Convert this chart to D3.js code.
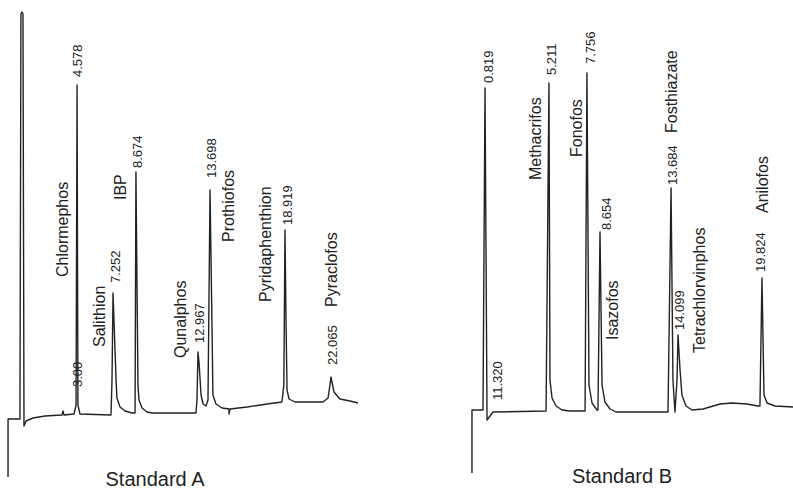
<!DOCTYPE html>
<html>
<head>
<meta charset="utf-8">
<script src="https://cdn.jsdelivr.net/npm/d3@7"></script>
<style>
  body { margin: 0; background: #fff; }
  text { font-family: "Liberation Sans", Arial, sans-serif; fill: #222; }
</style>
</head>
<body>
<svg id="chart" width="793" height="490"></svg>
<script>
// chromatogram traces: [retention time (min), detector signal]
const traceA = [
  [-0.19, -14.25], [-0.19, 0.25], [0.63, 0.25], [0.70, 101.5], [0.77, 102], [0.84, 101.5],
  [0.91, -1.5], [1.05, -0.25], [1.53, 0.5], [2.36, 1.0], [3.53, 1.25], [3.60, 2.25], [3.67, 1.25],
  [4.36, 1.5], [4.50, 3.75], [4.57, 83.75], [4.63, 3.75], [4.77, 1.5], [6.91, 1.25],
  [6.98, 10], [7.05, 31.75], [7.26, 10], [7.32, 5.5], [7.53, 3.25], [7.88, 2.25], [8.36, 1.75],
  [8.57, 1.75], [8.63, 62], [8.77, 8.75], [8.84, 5], [9.05, 3], [9.39, 2], [9.74, 1.75],
  [12.77, 1.75], [12.84, 5], [12.91, 17], [12.98, 14.5], [13.12, 6.25], [13.26, 4], [13.46, 3.5],
  [13.60, 5], [13.74, 57.5], [13.88, 22.5], [13.94, 6.25], [14.15, 4], [14.57, 3],
  [15.05, 2.75], [15.05, 1.5], [15.12, 2.75], [16.29, 3.25], [17.67, 4], [18.70, 4.5],
  [18.83, 8.75], [18.91, 47.5], [18.98, 25], [19.05, 7.5], [19.19, 5.25], [19.60, 4.5],
  [21.53, 4.5], [21.88, 5.5], [22.01, 8.75], [22.08, 10.75], [22.15, 9.5], [22.29, 7],
  [22.70, 5.25], [23.39, 4.75], [23.94, 4.25]
];
const traceB = [
  [-0.14, -13.25], [-0.14, 2.5], [0.62, 2.5], [0.76, 83], [0.90, 0], [1.31, 2],
  [4.97, 2.25], [5.17, 84.25], [5.24, 10], [5.38, 5.5], [5.66, 3.5], [6.07, 2.5], [6.62, 2.25],
  [7.66, 2.25], [7.79, 86.75], [7.93, 8.75], [8.14, 4.25], [8.48, 2.5], [8.55, 2.5],
  [8.69, 47], [8.83, 8.75], [9.03, 4.5], [9.38, 2.75], [9.79, 2], [13.38, 2],
  [13.59, 58], [13.72, 10], [13.86, 2], [14.0, 10], [14.07, 21.25], [14.21, 12.5],
  [14.34, 6.25], [14.62, 3.5], [15.03, 2.5], [15.79, 2.75], [16.97, 4], [17.79, 4.25],
  [18.83, 4], [19.59, 3.5], [19.72, 3.5], [19.86, 35.5], [20.0, 6.25], [20.21, 4.25],
  [20.76, 3.5], [22.0, 3.25]
];

// retention time labels: text, time, signal level of label foot
const rtLabelsA = [
  ["3.00", 4.57, 8.25], ["4.578", 4.57, 85.75], ["7.252", 7.19, 34.25], ["8.674", 8.70, 63],
  ["12.967", 12.98, 19.25], ["13.698", 13.81, 60.5], ["18.919", 19.05, 48.75], ["22.065", 22.15, 13.75]
];
const rtLabelsB = [
  ["0.819", 0.97, 84.25], ["11.320", 1.59, 5], ["5.211", 5.31, 86.25], ["7.756", 8.03, 89],
  ["8.654", 9.10, 47.5], ["13.684", 13.66, 58.75], ["14.099", 14.14, 22.5], ["19.824", 19.72, 37]
];

// compound names: name, time, signal level of label foot
const compoundsA = [
  ["Chlormephos", 3.53, 35.75], ["Salithion", 6.08, 18.25], ["IBP", 7.53, 55],
  ["Qunalphos", 11.67, 15.5], ["Prothiofos", 14.98, 44.5], ["Pyridaphenthion", 17.53, 29.5],
  ["Pyraclofos", 22.08, 28.25]
];
const compoundsB = [
  ["Methacrifos", 4.21, 60], ["Fonofos", 7.03, 65.75], ["Isazofos", 9.52, 20],
  ["Fosthiazate", 13.59, 71.75], ["Tetrachlorvinphos", 15.52, 16.75], ["Anilofos", 19.86, 51.75]
];

const titles = ["Standard A", "Standard B"];

const svg = d3.select("#chart");

// same detector scale for both runs
const y = d3.scaleLinear().domain([0, 100]).range([420, 20]);

function drawRun(trace, rtLabels, compounds, title, x0, titleX, titleY) {
  const x = d3.scaleLinear().domain([0, 24]).range([x0, x0 + 348]);
  const g = svg.append("g");

  const line = d3.line()
    .x(d => x(d[0]))
    .y(d => y(d[1]));

  g.append("path")
    .datum(trace)
    .attr("d", line)
    .attr("fill", "none")
    .attr("stroke", "#222")
    .attr("stroke-width", 1.4)
    .attr("stroke-linejoin", "round");

  // retention times, rotated
  g.selectAll("text.rt")
    .data(rtLabels)
    .join("text")
    .attr("class", "rt")
    .attr("transform", d => `translate(${x(d[1])},${y(d[2])}) rotate(-90)`)
    .attr("dy", "0.35em")
    .style("font-size", "13px")
    .text(d => d[0]);

  // compound names
  g.selectAll("text.name")
    .data(compounds)
    .join("text")
    .attr("class", "name")
    .attr("transform", d => `translate(${x(d[1])},${y(d[2])}) rotate(-90)`)
    .attr("dy", "0.35em")
    .style("font-size", "16px")
    .text(d => d[0]);

  g.append("text")
    .attr("x", titleX)
    .attr("y", titleY)
    .attr("text-anchor", "middle")
    .style("font-size", "20px")
    .text(title);
}

drawRun(traceA, rtLabelsA, compoundsA, titles[0], 10.8, 155, 486);
drawRun(traceB, rtLabelsB, compoundsB, titles[1], 474, 622, 483);
</script>
</body>
</html>
